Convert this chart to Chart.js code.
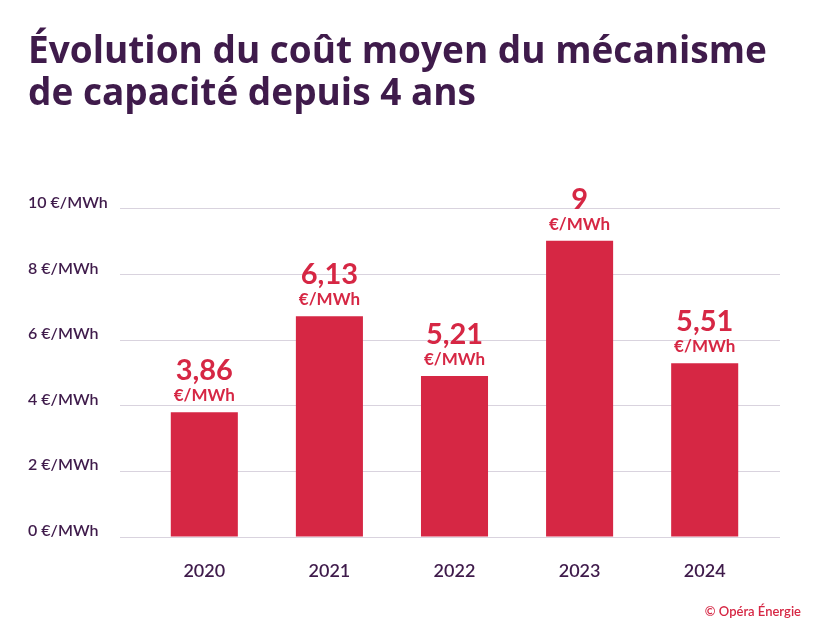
<!DOCTYPE html>
<html>
<head>
<meta charset="utf-8">
<script src="https://cdn.jsdelivr.net/npm/chart.js@4.4.1/dist/chart.umd.min.js"></script>
<style>
  html, body { margin: 0; padding: 0; background: #ffffff; }
  #wrap { width: 820px; height: 631px; position: relative; }
</style>
</head>
<body>
<div id="wrap"><canvas id="c" width="820" height="631"></canvas></div>
<script>
// ---- data ----
const years = [2020, 2021, 2022, 2023, 2024];
const barValues = [3.80, 6.73, 4.91, 9.03, 5.30];          // bar heights as drawn
const valueLabels = ['3,86', '6,13', '5,21', '9', '5,51']; // printed labels
const unitLabel = '€/MWh';
const yTicks = [0, 2, 4, 6, 8, 10];
const titleLines = ['Évolution du coût moyen du mécanisme', 'de capacité depuis 4 ans'];
const footerText = '© Opéra Énergie';

const PURPLE = '#3f1b4b';
const RED = '#d62744';
const FONT = 'Lato, "DejaVu Sans", sans-serif';
const TITLE_FONT = '"Open Sans", Lato, sans-serif';

const valueLabelPlugin = {
  id: 'valueLabels',
  afterDatasetsDraw(chart) {
    const ctx = chart.ctx;
    const meta = chart.getDatasetMeta(0);
    ctx.save();
    ctx.fillStyle = RED;
    ctx.textAlign = 'center';
    ctx.textBaseline = 'alphabetic';
    meta.data.forEach((bar, i) => {
      ctx.font = 'bold 29px ' + FONT;
      ctx.fillText(valueLabels[i], bar.x, bar.y - 32);
      ctx.font = 'bold 17px ' + FONT;
      ctx.fillText(unitLabel, bar.x, bar.y - 11);
    });
    ctx.restore();
  }
};

const footerPlugin = {
  id: 'footer',
  afterDraw(chart) {
    const ctx = chart.ctx;
    ctx.save();
    ctx.fillStyle = RED;
    ctx.font = '600 13px ' + FONT;
    ctx.textAlign = 'right';
    ctx.textBaseline = 'alphabetic';
    ctx.fillText(footerText, 801, 616);
    ctx.restore();
  }
};

new Chart(document.getElementById('c'), {
  type: 'bar',
  data: {
    datasets: [{
      data: years.map((y, i) => ({ x: y, y: barValues[i] })),
      backgroundColor: RED,
      borderWidth: 0,
      barPercentage: 0.536,
      categoryPercentage: 1.0
    }]
  },
  options: {
    responsive: false,
    devicePixelRatio: 1,
    animation: false,
    layout: { padding: { left: 28, right: 40, top: 31, bottom: 49 } },
    plugins: {
      legend: { display: false },
      tooltip: { enabled: false },
      title: {
        display: true,
        text: titleLines,
        align: 'start',
        color: PURPLE,
        font: { family: TITLE_FONT, size: 37, weight: 'bold', lineHeight: 1.135 },
        padding: { top: 0, bottom: 94 }
      }
    },
    scales: {
      x: {
        type: 'linear',
        offset: false,
        min: 2019.326,
        max: 2024.602,
        grid: { display: false, drawTicks: false },
        border: { display: false },
        afterBuildTicks: (scale) => { scale.ticks = years.map(v => ({ value: v })); },
        afterFit: (scale) => { scale.height = 45; },
        ticks: {
          padding: 23,
          maxRotation: 0,
          minRotation: 0,
          autoSkip: false,
          color: PURPLE,
          font: { family: FONT, size: 18, weight: '600' },
          callback: (v) => String(v)
        }
      },
      y: {
        min: 0,
        max: 10,
        afterBuildTicks: (scale) => { scale.ticks = yTicks.map(v => ({ value: v })); },
        afterFit: (scale) => { scale.width = 92; },
        grid: { color: '#d9d3de', lineWidth: 1, drawTicks: false },
        border: { display: false },
        ticks: {
          crossAlign: 'far',
          color: PURPLE,
          font: { family: FONT, size: 16, weight: '600', lineHeight: 0.78 },
          callback: (v) => [v + ' ' + unitLabel, '']
        }
      }
    }
  },
  plugins: [valueLabelPlugin, footerPlugin]
});
</script>
</body>
</html>
